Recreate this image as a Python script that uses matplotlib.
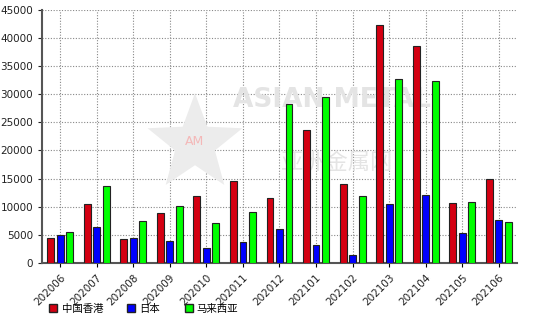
import matplotlib
matplotlib.use('Agg')
import matplotlib.pyplot as plt
import numpy as np

plt.rcParams['font.family'] = ['DejaVu Sans', 'Noto Sans CJK SC']

months = ['202006', '202007', '202008', '202009', '202010', '202011', '202012',
          '202101', '202102', '202103', '202104', '202105', '202106']
hongkong = [4500, 10530, 4320, 8880, 11830, 14500, 11480, 23620, 14020, 42210, 38480, 10710, 14970]
japan = [4910, 6390, 4500, 3900, 2660, 3730, 6040, 3200, 1360, 10530, 12070, 5380, 7690]
malaysia = [5560, 13730, 7510, 10180, 7040, 9050, 28160, 29460, 11830, 32660, 32370, 10890, 7220]

series_names = ['中国香港', '日本', '马来西亚']
series_colors = ['#d40012', '#0000ff', '#00ff00']

fig = plt.figure(figsize=(5.54, 3.2), dpi=100)
ax = fig.add_axes([0.076, 0.178, 0.857, 0.792])

# faint watermark behind the bars
ang = np.pi / 2 + np.arange(10) * np.pi / 5
rad = np.where(np.arange(10) % 2 == 0, 1.0, 0.42)
sx = 0.322 + 0.105 * rad * np.cos(ang)
sy = 0.47 + 0.20 * rad * np.sin(ang)
ax.fill(sx, sy, transform=ax.transAxes, color='#ececec', zorder=1, linewidth=0)
ax.text(0.322, 0.48, 'AM', transform=ax.transAxes, fontsize=9, color='#f4b8b8',
        ha='center', va='center', zorder=1)
ax.text(0.61, 0.645, 'ASIAN METAL', transform=ax.transAxes, fontsize=19, color='#e4e4e4',
        ha='center', va='center', fontweight='bold', zorder=1)
ax.text(0.62, 0.395, '亚洲金属网', transform=ax.transAxes, fontsize=16, color='#e4e4e4',
        ha='center', va='center', zorder=1)

x = np.arange(len(months))
offsets = [-0.26, 0.0, 0.26]
w = 0.19
for vals, off, col, name in zip([hongkong, japan, malaysia], offsets, series_colors, series_names):
    # grey drop shadow then the bar itself
    ax.bar(x + off + 0.025, vals, w, color='#b0b0b0', zorder=2, linewidth=0)
    ax.bar(x + off, vals, w, color=col, edgecolor='#222222', linewidth=0.8,
           zorder=3, label=name)

ax.set_xlim(-0.5, len(months) - 0.5)
ax.set_ylim(0, 45000)
ax.set_yticks(np.arange(0, 45001, 5000))
ax.set_xticks(x)
ax.set_xticklabels(months, rotation=45, ha='right', rotation_mode='anchor', fontsize=7.5, color='#222222')
ax.tick_params(axis='y', labelsize=7.5, length=3, colors='#222222')
ax.tick_params(axis='x', length=3)
ax.grid(True, linestyle=(0, (1, 1.5)), color='#888888', linewidth=0.8, zorder=0)
ax.set_axisbelow(True)
for s in ['top', 'right']:
    ax.spines[s].set_visible(False)
for s in ['left', 'bottom']:
    ax.spines[s].set_color('#555555')
    ax.spines[s].set_linewidth(1.5)

handles = [plt.Line2D([], [], marker='s', linestyle='none', markersize=6,
                      markerfacecolor=c, markeredgecolor='#222222') for c in series_colors]
fig.legend(handles, series_names, loc='lower left', bbox_to_anchor=(0.07, -0.01),
           ncol=3, frameon=False, fontsize=7.5, handletextpad=0.3, columnspacing=2.2,
           handlelength=1.0)

fig.savefig('out.png', dpi=100)
